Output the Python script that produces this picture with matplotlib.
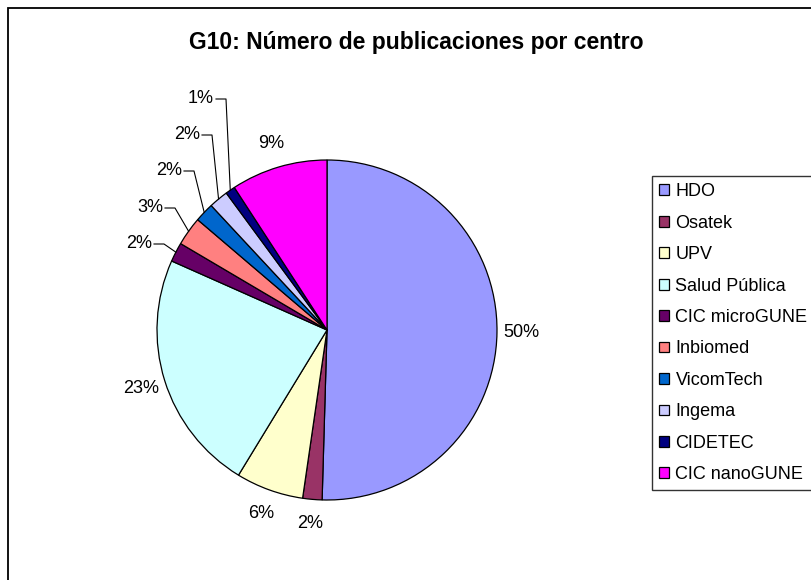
import matplotlib
matplotlib.use('Agg')
import matplotlib.pyplot as plt
from matplotlib.patches import Rectangle
import numpy as np

plt.rcParams['font.family'] = ['Liberation Sans', 'DejaVu Sans']

# publications per centre
centres = ['HDO', 'Osatek', 'UPV', 'Salud Pública', 'CIC microGUNE',
           'Inbiomed', 'VicomTech', 'Ingema', 'CIDETEC', 'CIC nanoGUNE']
counts = [55, 2, 7, 25, 2, 3, 2, 2, 1, 10]
colours = ['#9999FF', '#993366', '#FFFFCC', '#CCFFFF', '#660066',
           '#FF8080', '#0066CC', '#CCCCFF', '#000080', '#FF00FF']
title = 'G10: Número de publicaciones por centro'

W, H = 812, 580
fig = plt.figure(figsize=(W / 100, H / 100), dpi=100)
ax = fig.add_axes([0, 0, 1, 1])

# chart area border (only top and left visible, rest is cut off)
fig.patches.append(Rectangle((8 / W, -0.1), 1.2, 1.1 - 8 / H, transform=fig.transFigure,
                             fill=False, edgecolor='black', linewidth=1.3))

cx, cy, r = 327, H - 330, 170
wedges, _ = ax.pie(counts, colors=colours, startangle=90, counterclock=False,
                   center=(cx, cy), radius=r, frame=True,
                   wedgeprops=dict(edgecolor='black', linewidth=0.9))
ax.set_xlim(0, W)
ax.set_ylim(0, H)
ax.set_aspect('equal')
ax.axis('off')

total = sum(counts)
pcts = ['%d%%' % round(100 * c / total) for c in counts]

# small slices at upper left get stacked labels with leader lines
leader_pos = {4: (139, 244), 5: (150, 208), 6: (169, 171), 7: (187, 135), 8: (201, 99)}

for i, w in enumerate(wedges):
    mid = np.deg2rad((w.theta1 + w.theta2) / 2)
    if i in leader_pos:
        tx, ty = leader_pos[i]
        ty = H - ty
        ax.text(tx, ty, pcts[i], ha='center', va='center', fontsize=13)
        ex, ey = cx + r * np.cos(mid), cy + r * np.sin(mid)
        x0 = tx + 15
        ax.plot([x0, x0 + 10, ex], [ty, ty, ey], color='black', lw=0.8)
    else:
        d = 1.145 * r
        ax.text(cx + d * np.cos(mid), cy + d * np.sin(mid), pcts[i],
                ha='center', va='center', fontsize=13)

fig.text(416 / W, 1 - 42 / H, title, ha='center', va='center',
         fontsize=16.5, fontweight='bold')

leg = fig.legend(wedges, centres, loc='upper left', bbox_to_anchor=(652 / W, 1 - 176 / H),
                 fontsize=13, frameon=True, fancybox=False, edgecolor='black',
                 handlelength=0.55, handleheight=0.55, handletextpad=0.35,
                 labelspacing=0.8, borderpad=0.4, borderaxespad=0)
leg.get_frame().set_linewidth(1.0)

fig.savefig('out.png', dpi=100)
